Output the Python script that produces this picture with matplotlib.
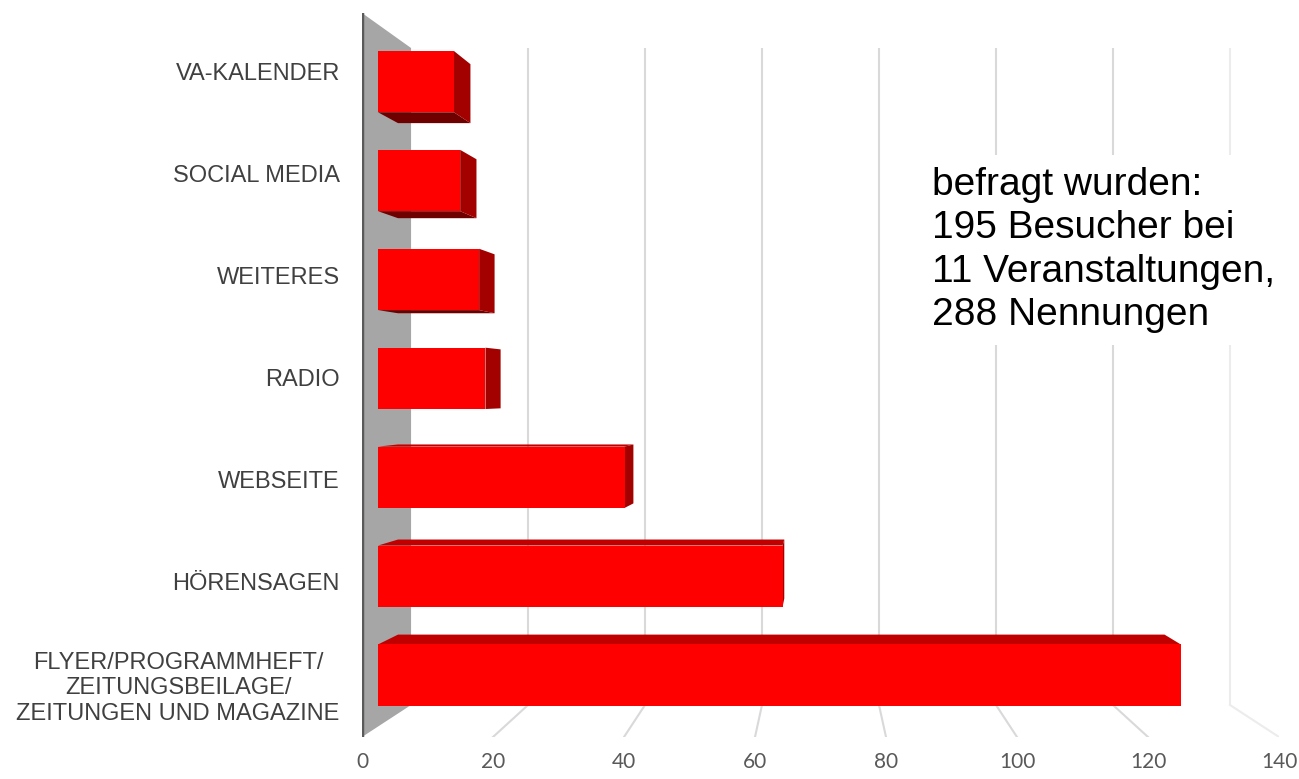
import matplotlib.pyplot as plt
from matplotlib.patches import Polygon

# Daten
categories = ['VA-KALENDER', 'SOCIAL MEDIA', 'WEITERES', 'RADIO', 'WEBSEITE', 'HÖRENSAGEN',
              'FLYER/PROGRAMMHEFT/\nZEITUNGSBEILAGE/\nZEITUNGEN UND MAGAZINE']
values = [12, 13, 16, 17, 39, 64, 127]
xticks = [0, 20, 40, 60, 80, 100, 120, 140]
note = 'befragt wurden:\n195 Besucher bei\n11 Veranstaltungen,\n288 Nennungen'

# Perspektive (Fluchtpunkt in Datenkoordinaten)
VPX, VPY = 70, 3.13
KX, KY = 0.107, 0.0926
D_FRONT, D_BACK = 0.326, 0.734
BAR_H = 0.62
Y_TOP, Y_BOT = -0.578, 6.52

RED = '#ff0000'
RED_SIDE = '#a30000'
RED_TOP = '#c00000'
RED_BOTTOM = '#6e0000'
GRID = '#d9d9d9'


def proj(x, y, d):
    # Punkt in Tiefe d (0 = vorne, 1 = hinten) auf die Vorderebene projizieren
    return x + d * KX * (VPX - x), y + d * KY * (VPY - y)


fig = plt.figure(figsize=(12.99, 7.79), dpi=100)
ax = fig.add_axes([362 / 1299, (779 - 737) / 779, 917 / 1299, 724 / 779])
ax.set_xlim(0, 140)
ax.set_ylim(Y_BOT, Y_TOP)

# Gitterlinien: Rueckwand + Boden
for v in xticks[1:]:
    bx, by0 = proj(v, Y_TOP, 1)
    _, by1 = proj(v, Y_BOT, 1)
    c = GRID if v < 140 else '#ececec'
    ax.plot([bx, bx], [by0, by1], color=c, lw=1.5, zorder=1, solid_capstyle='butt')
    ax.plot([bx, v], [by1, Y_BOT], color=c, lw=1.5, zorder=1)

# Seitenwand links
wall = [proj(0, Y_TOP, 0), proj(0, Y_TOP, 1), proj(0, Y_BOT, 1), proj(0, Y_BOT, 0)]
ax.add_patch(Polygon(wall, closed=True, fc='#a6a6a6', ec='none', zorder=2))
ax.plot([0, 0], [Y_TOP, Y_BOT], color='#5a5a5a', lw=2.5, zorder=2.5)

# Balken
lefts, widths, centers, heights = [], [], [], []
for i, v in enumerate(values):
    y0, y1 = i - BAR_H / 2, i + BAR_H / 2
    corners = {'tl': (0, y0), 'tr': (v, y0), 'br': (v, y1), 'bl': (0, y1)}
    f = {k: proj(x, y, D_FRONT) for k, (x, y) in corners.items()}
    b = {k: proj(x, y, D_BACK) for k, (x, y) in corners.items()}
    if y0 > VPY:
        ax.add_patch(Polygon([f['tl'], f['tr'], b['tr'], b['tl']], fc=RED_TOP, ec='none', zorder=3))
    if y1 < VPY:
        ax.add_patch(Polygon([f['bl'], f['br'], b['br'], b['bl']], fc=RED_BOTTOM, ec='none', zorder=3))
    if v < VPX:
        ax.add_patch(Polygon([f['tr'], f['br'], b['br'], b['tr']], fc=RED_SIDE, ec='none', zorder=3))
    lefts.append(f['tl'][0])
    widths.append(f['tr'][0] - f['tl'][0])
    centers.append(proj(0, i, D_FRONT)[1])
    heights.append(f['bl'][1] - f['tl'][1])

ax.barh(centers, widths, left=lefts, height=heights, color=RED, zorder=4)

# Achsen
for s in ax.spines.values():
    s.set_visible(False)
ax.set_xticks(xticks)
ax.set_xticklabels([str(t) for t in xticks], fontsize=15, color='#595959', family='Lato')
ax.set_yticks(range(len(categories)))
ax.set_yticklabels(categories, fontsize=17, color='#404040', family='Liberation Sans')
ax.tick_params(axis='x', length=0, pad=11)
ax.tick_params(axis='y', length=0, pad=16)
for lbl in ax.get_yticklabels():
    lbl.set_multialignment('center')
    lbl.set_linespacing(1.2)

# Hinweistext
fig.text(932 / 1299, 1 - 250 / 779, note, fontsize=28, family='Liberation Sans',
         color='black', ha='left', va='center', linespacing=1.27,
         bbox=dict(fc='white', ec='none', pad=8), zorder=10)

fig.savefig('out.png', dpi=100)
